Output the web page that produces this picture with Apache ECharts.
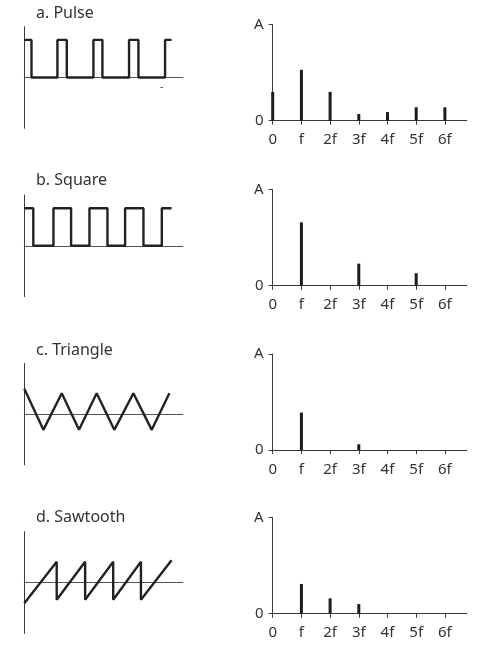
<!DOCTYPE html>
<html>
<head>
<meta charset="utf-8">
<script src="https://cdn.jsdelivr.net/npm/echarts@6/dist/echarts.min.js"></script>
<style>html,body{margin:0;padding:0;background:#fff}#c{width:477px;height:646px}</style>
</head>
<body>
<div id="c"></div>
<script>
// ---- data ----
const panelTitles = ['a. Pulse', 'b. Square', 'c. Triangle', 'd. Sawtooth'];
const harmonicLabels = ['0', 'f', '2f', '3f', '4f', '5f', '6f'];
const harmonicPositions = [0, 1, 2, 3, 4, 5, 6];
const amplitudeTickLabels = ['0', 'A'];

// waveforms: [time (periods), level]
const pulseWave = [[0,0.74],[0.2,0.74],[0.2,0],[0.92,0],[0.92,0.74],[1.18,0.74],[1.18,0],[1.92,0],[1.92,0.74],[2.17,0.74],[2.17,0],[2.91,0],[2.91,0.74],[3.17,0.74],[3.17,0],[3.91,0],[3.91,0.74],[4.09,0.74]];
const squareWave = [[0,0.74],[0.25,0.74],[0.25,0],[0.81,0],[0.81,0.74],[1.30,0.74],[1.30,0],[1.81,0],[1.81,0.74],[2.31,0.74],[2.31,0],[2.80,0],[2.80,0.74],[3.31,0.74],[3.31,0],[3.82,0],[3.82,0.74],[4.09,0.74]];
const triangleWave = [[0,0.5],[0.53,-0.31],[1.04,0.41],[1.52,-0.31],[2.01,0.41],[2.5,-0.31],[3.03,0.41],[3.54,-0.31],[4.03,0.41]];
const sawtoothWave = [[0,-0.41],[0.9,0.41],[0.9,-0.34],[1.69,0.41],[1.69,-0.34],[2.47,0.41],[2.47,-0.34],[3.24,0.41],[3.24,-0.34],[4.09,0.44]];

// spectra: amplitude per harmonic (null = none)
const pulseSpectrum = [0.30, 0.53, 0.30, 0.07, 0.09, 0.14, 0.14];
const squareSpectrum = [null, 0.66, null, 0.23, null, 0.13, null];
const triangleSpectrum = [null, 0.39, null, 0.06, null, null, null];
const sawtoothSpectrum = [null, 0.31, 0.16, 0.10, null, null, null];

const waves = [pulseWave, squareWave, triangleWave, sawtoothWave];
const spectra = [pulseSpectrum, squareSpectrum, triangleSpectrum, sawtoothSpectrum];

// ---- layout ----
const FONT = 'Noto Sans';
const TXT = '#333';
const AX = '#3a3a3a';
const waveTops = [26.7, 195, 363.3, 531.7];
const waveH = 101.6;
const specTops = [24.7, 189.7, 354, 517.7];
const specH = 96;
const titleTops = [5, 172, 342, 509];

const grid = [], xAxis = [], yAxis = [], series = [], title = [];
for (let i = 0; i < 4; i++) {
  title.push({text: panelTitles[i], left: 36, top: titleTops[i], padding: 0,
    textStyle: {fontFamily: FONT, fontSize: 16, fontWeight: 'normal', color: TXT}});
  // waveform grid
  const gw = grid.length;
  grid.push({left: 24.3, top: waveTops[i], width: 158.4, height: waveH});
  xAxis.push({gridIndex: gw, type: 'value', min: 0, max: 4.4,
    axisLine: {show: true, onZero: true, lineStyle: {color: '#555', width: 1}},
    axisTick: {show: false}, axisLabel: {show: false}, splitLine: {show: false}});
  yAxis.push({gridIndex: gw, type: 'value', min: -1, max: 1,
    axisLine: {show: true, onZero: false, lineStyle: {color: AX, width: 1}},
    axisTick: {show: false}, axisLabel: {show: false}, splitLine: {show: false}});
  series.push({type: 'line', xAxisIndex: gw, yAxisIndex: gw, data: waves[i],
    symbol: 'none', lineStyle: {color: '#222', width: 2.4}, z: 3});
  // spectrum grid
  const gs = grid.length;
  grid.push({left: 272.7, top: specTops[i], width: 194, height: specH});
  xAxis.push({gridIndex: gs, type: 'value', min: 0, max: 6.76,
    axisLine: {show: true, onZero: false, lineStyle: {color: AX, width: 1}},
    axisTick: {show: true, length: 4, customValues: harmonicPositions, lineStyle: {color: AX, width: 1}},
    axisLabel: {show: true, customValues: harmonicPositions, margin: 12,
      fontFamily: FONT, fontSize: 15, color: TXT,
      formatter: v => harmonicLabels[Math.round(v)]},
    splitLine: {show: false}});
  yAxis.push({gridIndex: gs, type: 'value', min: 0, max: 1, interval: 1,
    axisLine: {show: true, onZero: false, lineStyle: {color: AX, width: 1}},
    axisTick: {show: true, length: 4, lineStyle: {color: AX, width: 1}},
    axisLabel: {show: true, margin: 9, fontFamily: FONT, fontSize: 15, color: TXT,
      formatter: v => amplitudeTickLabels[Math.round(v)]},
    splitLine: {show: false}});
  series.push({type: 'bar', xAxisIndex: gs, yAxisIndex: gs, barWidth: 3,
    data: spectra[i].map((a, k) => [harmonicPositions[k], a]),
    itemStyle: {color: '#1c1c1c'}, z: 3});
}

const chart = echarts.init(document.getElementById('c'), null, {renderer: 'canvas'});
chart.setOption({
  animation: false,
  backgroundColor: '#fff',
  title, grid, xAxis, yAxis, series,
  graphic: [{type: 'text', left: 160, top: 82, style: {text: '-', fontFamily: FONT, fontSize: 10, fill: TXT}}]
});
</script>
</body>
</html>
